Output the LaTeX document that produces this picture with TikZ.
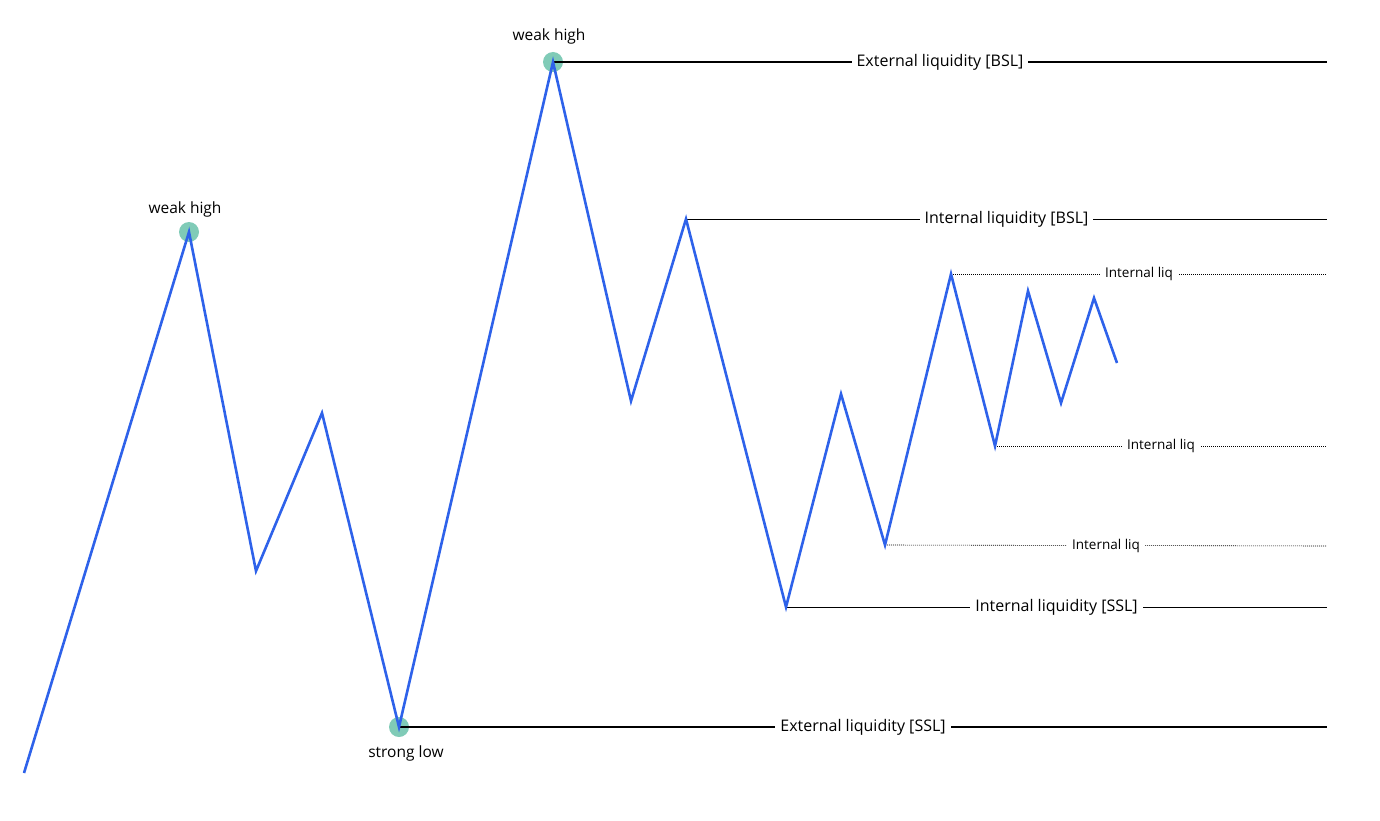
\documentclass[tikz,border=0pt]{standalone}
\usepackage{fontspec}
\setmainfont{Open Sans}
\definecolor{swing}{HTML}{2E62EA}
\definecolor{pivot}{HTML}{80CBB7}
\begin{document}
\begin{tikzpicture}[x=1pt,y=-1pt,
    price/.style={swing,line width=2.6pt,line join=miter},
    ext/.style={black,line width=1.9pt},
    intl/.style={black,line width=0.9pt},
    minor/.style={black,line width=0.6pt,dash pattern=on 1pt off 1pt},
    tag/.style={fill=white,inner xsep=5pt,inner ysep=1pt,font=\fontsize{16}{18}\selectfont},
    smalltag/.style={fill=white,inner xsep=5pt,inner ysep=1pt,font=\fontsize{13.5}{15}\selectfont},
    pivtag/.style={font=\fontsize{15.5}{17}\selectfont},
    dot/.style={circle,fill=pivot,minimum size=20pt,inner sep=0pt}]
      \useasboundingbox (0,0) rectangle (1380,821);
      % swing points
      \coordinate (p0) at (24,773);  \coordinate (p1) at (189,232);
      \coordinate (p2) at (256,571); \coordinate (p3) at (322,413);
      \coordinate (p4) at (399,727); \coordinate (p5) at (553,62);
      \coordinate (p6) at (631,401); \coordinate (p7) at (686,219);
      \coordinate (p8) at (786,607); \coordinate (p9) at (841,394);
      \coordinate (p10) at (885,545); \coordinate (p11) at (951,274);
      \coordinate (p12) at (995,446); \coordinate (p13) at (1028,291);
      \coordinate (p14) at (1061,403); \coordinate (p15) at (1094,298);
      \coordinate (p16) at (1117,363);
      % right ends of the levels
      \coordinate (e5) at (1327,62);  \coordinate (e7) at (1327,219);
      \coordinate (e11) at (1327,274); \coordinate (e12) at (1327,446);
      \coordinate (e10) at (1327,546); \coordinate (e8) at (1327,607);
      \coordinate (e4) at (1327,727);
      \node[dot] (h1) at (p1) {}; \node[dot] (h2) at (p5) {};
      \node[dot] (l1) at (p4) {};
      \node[pivtag] (th1) at (185,209) {weak high};
      \node[pivtag] (th2) at (549,36) {weak high};
      \node[pivtag] (tl1) at (406,753) {strong low};
      \draw[ext] (p5) -- node[tag] {External liquidity [BSL]} (e5);
      \draw[intl] (p7) -- node[tag] {Internal liquidity [BSL]} (e7);
      \draw[minor] (p11) -- node[smalltag] {Internal liq} (e11);
      \draw[minor] (p12) -- node[smalltag] {Internal liq} (e12);
      \draw[minor] (p10) -- node[smalltag] {Internal liq} (e10);
      \draw[intl] (p8) -- node[tag] {Internal liquidity [SSL]} (e8);
      \draw[ext] (p4) -- node[tag] {External liquidity [SSL]} (e4);
      \draw[price] (p0) -- (p1) -- (p2) -- (p3) -- (p4) -- (p5) -- (p6) -- (p7) -- (p8)
        -- (p9) -- (p10) -- (p11) -- (p12) -- (p13) -- (p14) -- (p15) -- (p16);
    \end{tikzpicture}
\end{document}
